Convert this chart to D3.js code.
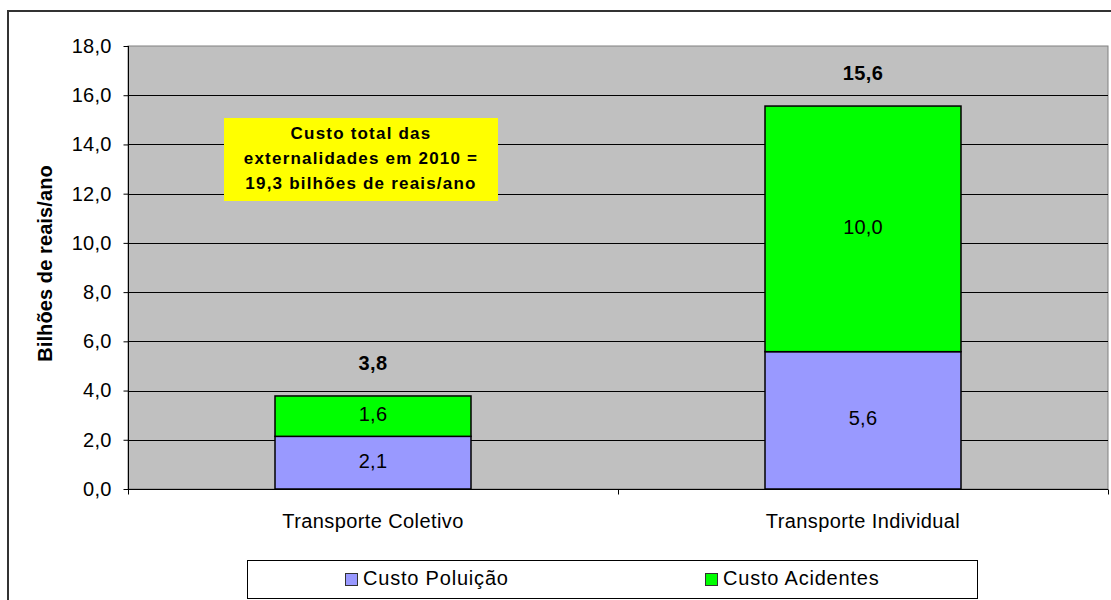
<!DOCTYPE html>
<html>
<head>
<meta charset="utf-8">
<script src="https://cdn.jsdelivr.net/npm/d3@7"></script>
<style>
  body { margin: 0; background: #fff; }
  text { font-family: "Liberation Sans", Arial, sans-serif; fill: #000; }
</style>
</head>
<body>
<script>
// data
var categories = ["Transporte Coletivo", "Transporte Individual"];
var seriesNames = ["Custo Poluição", "Custo Acidentes"];
var poluicao = [2.14, 5.58];
var acidentes = [1.64, 9.98];
var yTicks = [0, 2, 4, 6, 8, 10, 12, 14, 16, 18];
var noteLines = ["Custo total das", "externalidades em 2010 =", "19,3 bilhões de reais/ano"];

var colors = ["#9999ff", "#00ff00"];
var fmt = function (v) { return d3.format(".1f")(v).replace(".", ","); };

var width = 1111, height = 600;
var margin = { top: 46, right: 3, bottom: 111, left: 128 };

var svg = d3.select("body").append("svg")
  .attr("width", width)
  .attr("height", height);

// outer chart border
svg.append("rect")
  .attr("x", 8).attr("y", 11)
  .attr("width", width + 20).attr("height", height + 20)
  .attr("fill", "#fff")
  .attr("stroke", "#333").attr("stroke-width", 2);

var x = d3.scaleBand()
  .domain(categories)
  .range([margin.left, width - margin.right])
  .paddingInner(0).paddingOuter(0);

var y = d3.scaleLinear()
  .domain([0, 18])
  .range([height - margin.bottom, margin.top]);

// plot background
svg.append("rect")
  .attr("x", x.range()[0]).attr("y", y(18))
  .attr("width", x.range()[1] - x.range()[0])
  .attr("height", y(0) - y(18))
  .attr("fill", "#c0c0c0")
  .attr("stroke", "#808080").attr("stroke-width", 1);

// gridlines
svg.append("g")
  .selectAll("line")
  .data(yTicks.filter(function (d) { return d > 0 && d < 18; }))
  .enter().append("line")
  .attr("x1", x.range()[0]).attr("x2", x.range()[1])
  .attr("y1", function (d) { return Math.round(y(d)) + 0.5; })
  .attr("y2", function (d) { return Math.round(y(d)) + 0.5; })
  .attr("stroke", "#000").attr("stroke-width", 1);

// y axis
var yAxis = svg.append("g")
  .attr("transform", "translate(" + (x.range()[0] + 0.5) + ",0)")
  .call(d3.axisLeft(y).tickValues(yTicks).tickSize(5).tickPadding(12).tickFormat(fmt));
yAxis.selectAll("text")
  .style("font-size", "20px")
  .style("letter-spacing", "0.2px")
  .style("font-family", "Liberation Sans, Arial, sans-serif");
yAxis.selectAll("line, path").attr("stroke", "#000");
yAxis.select(".domain").attr("d", "M0," + y(0) + "V" + y(18));

// x axis
var xAxisG = svg.append("g").attr("transform", "translate(0," + (Math.round(y(0)) + 0.5) + ")");
xAxisG.append("line")
  .attr("x1", x.range()[0]).attr("x2", x.range()[1])
  .attr("stroke", "#000");
xAxisG.selectAll(".tk")
  .data([x.range()[0], x.range()[0] + x.bandwidth(), x.range()[1]])
  .enter().append("line")
  .attr("x1", function (d) { return Math.round(d) + 0.5; })
  .attr("x2", function (d) { return Math.round(d) + 0.5; })
  .attr("y1", 0).attr("y2", 5)
  .attr("stroke", "#000");
xAxisG.selectAll(".cat")
  .data(categories)
  .enter().append("text")
  .attr("x", function (d) { return x(d) + x.bandwidth() / 2; })
  .attr("y", 31)
  .attr("dy", "0.35em")
  .attr("text-anchor", "middle")
  .style("font-size", "20px")
  .style("letter-spacing", "0.4px")
  .text(function (d) { return d; });

// stacked bars
var table = categories.map(function (c, i) {
  return { cat: c, poluicao: poluicao[i], acidentes: acidentes[i] };
});
var stack = d3.stack().keys(["poluicao", "acidentes"]);
var series = stack(table);
var barW = x.bandwidth() * 0.4;

var layers = svg.append("g").selectAll("g")
  .data(series)
  .enter().append("g")
  .attr("fill", function (d, i) { return colors[i]; });

layers.selectAll("rect")
  .data(function (d) { return d; })
  .enter().append("rect")
  .attr("x", function (d) { return x(d.data.cat) + (x.bandwidth() - barW) / 2; })
  .attr("y", function (d) { return y(d[1]); })
  .attr("width", barW)
  .attr("height", function (d) { return y(d[0]) - y(d[1]); })
  .attr("stroke", "#000")
  .attr("stroke-width", 1.5);

layers.selectAll("text")
  .data(function (d) { return d; })
  .enter().append("text")
  .attr("x", function (d) { return x(d.data.cat) + x.bandwidth() / 2; })
  .attr("y", function (d) { return (y(d[0]) + y(d[1])) / 2 - 2; })
  .attr("dy", "0.35em")
  .attr("text-anchor", "middle")
  .style("font-size", "20px")
  .style("letter-spacing", "0.2px")
  .text(function (d) { return fmt(d[1] - d[0]); });

// totals
svg.append("g").selectAll("text")
  .data(table)
  .enter().append("text")
  .attr("x", function (d) { return x(d.cat) + x.bandwidth() / 2; })
  .attr("y", function (d) { return y(d.poluicao + d.acidentes) - 33; })
  .attr("dy", "0.35em")
  .attr("text-anchor", "middle")
  .style("font-size", "20px")
  .style("font-weight", "bold")
  .style("letter-spacing", "0.4px")
  .text(function (d) { return fmt(d.poluicao + d.acidentes); });

// y axis title
svg.append("text")
  .attr("transform", "translate(45," + (y(9) - 4) + ") rotate(-90)")
  .attr("dy", "0.35em")
  .attr("text-anchor", "middle")
  .style("font-size", "20px")
  .style("font-weight", "bold")
  .style("letter-spacing", "0.1px")
  .text("Bilhões de reais/ano");

// note box
var note = svg.append("g");
note.append("rect")
  .attr("x", 224).attr("y", 118)
  .attr("width", 274).attr("height", 83)
  .attr("fill", "#ffff00");
note.selectAll("text")
  .data(noteLines)
  .enter().append("text")
  .attr("x", 361)
  .attr("y", function (d, i) { return 133 + i * 25; })
  .attr("dy", "0.35em")
  .attr("text-anchor", "middle")
  .style("font-size", "17px")
  .style("font-weight", "bold")
  .style("letter-spacing", "1.2px")
  .text(function (d) { return d; });

// legend
var legend = svg.append("g");
legend.append("rect")
  .attr("x", 247.5).attr("y", 560.5)
  .attr("width", 730).attr("height", 38)
  .attr("fill", "#fff")
  .attr("stroke", "#000").attr("stroke-width", 1);
var legX = [345, 705];
var items = legend.selectAll(".item")
  .data(seriesNames)
  .enter().append("g")
  .attr("transform", function (d, i) { return "translate(" + legX[i] + ",579)"; });
items.append("rect")
  .attr("x", 0.5).attr("y", -5.5)
  .attr("width", 12).attr("height", 12)
  .attr("fill", function (d, i) { return colors[i]; })
  .attr("stroke", "#333").attr("stroke-width", 1);
items.append("text")
  .attr("x", 18)
  .attr("y", -1)
  .attr("dy", "0.35em")
  .style("font-size", "20px")
  .style("letter-spacing", "0.8px")
  .text(function (d) { return d; });
</script>
</body>
</html>
